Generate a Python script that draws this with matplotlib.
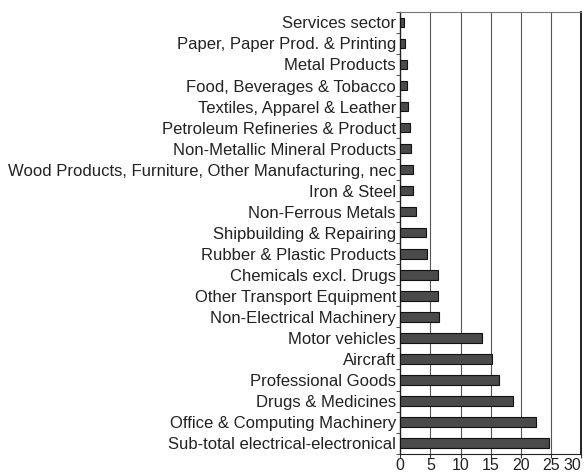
import matplotlib
matplotlib.use("Agg")
import matplotlib.pyplot as plt
import numpy as np

plt.rcParams['font.family'] = ['Liberation Sans', 'DejaVu Sans']

categories = [
    "Services sector",
    "Paper, Paper Prod. & Printing",
    "Metal Products",
    "Food, Beverages & Tobacco",
    "Textiles, Apparel & Leather",
    "Petroleum Refineries & Product",
    "Non-Metallic Mineral Products",
    "Wood Products, Furniture, Other Manufacturing, nec",
    "Iron & Steel",
    "Non-Ferrous Metals",
    "Shipbuilding & Repairing",
    "Rubber & Plastic Products",
    "Chemicals excl. Drugs",
    "Other Transport Equipment",
    "Non-Electrical Machinery",
    "Motor vehicles",
    "Aircraft",
    "Professional Goods",
    "Drugs & Medicines",
    "Office & Computing Machinery",
    "Sub-total electrical-electronical",
]
values = [0.6, 0.8, 1.1, 1.2, 1.3, 1.65, 1.75, 2.15, 2.1, 2.7, 4.2,
          4.45, 6.25, 6.25, 6.35, 13.5, 15.2, 16.3, 18.6, 22.4, 24.7]
xticks = [0, 5, 10, 15, 20, 25, 30]

fig = plt.figure(figsize=(5.85, 4.76), dpi=100)
ax = fig.add_axes([0.684, 0.047, 0.310, 0.928])

n = len(categories)
ypos = np.arange(n)[::-1]
ax.barh(ypos, values, height=0.45, color="#4a4a4a", edgecolor="#111111", linewidth=0.8, zorder=3)
ax.set_ylim(-0.5, n - 0.5)
ax.set_xlim(0, 30)
ax.set_yticks(ypos)
ax.set_yticklabels(categories, fontsize=12.0, color="#222222")
ax.set_yticks(np.arange(-0.5, n, 1), minor=True)
ax.tick_params(axis='y', which='major', length=0, pad=3)
ax.tick_params(axis='y', which='minor', length=3, color="#333333")
ax.set_xticks(xticks)
ax.set_xticklabels([str(t) for t in xticks], fontsize=11.5, color="#222222")
ax.get_xticklabels()[-1].set_horizontalalignment('right')
ax.tick_params(axis='x', length=3, color="#333333", pad=0.5)
for t in xticks[1:-1]:
    ax.axvline(t, color="#555555", linewidth=0.8, zorder=1)
ax.spines['left'].set_color("#222222")
ax.spines['left'].set_linewidth(1.0)
ax.spines['right'].set_color("#111111")
ax.spines['right'].set_linewidth(1.3)
ax.spines['top'].set_color("#777777")
ax.spines['top'].set_linewidth(0.8)
ax.spines['bottom'].set_color("#222222")

fig.savefig("out.png", dpi=100)
